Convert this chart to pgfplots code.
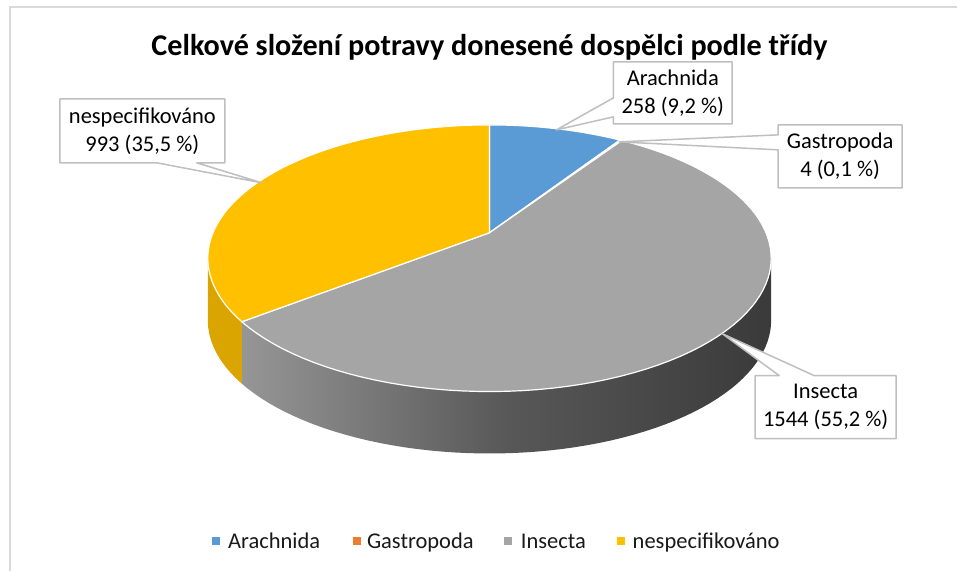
\documentclass[border=0pt]{standalone}
\usepackage{pgfplots}
\usepackage{pgfplotstable}
\pgfplotsset{compat=1.18}
\usepackage{fontspec}
\setmainfont{Carlito}

\definecolor{cArach}{RGB}{91,155,213}
\definecolor{cGastr}{RGB}{237,125,49}
\definecolor{cInsec}{RGB}{165,165,165}
\definecolor{cNesp}{RGB}{255,192,0}
\definecolor{cNespSide}{RGB}{218,165,0}
\definecolor{cSideL}{RGB}{150,150,150}
\definecolor{cSideM}{RGB}{88,88,88}
\definecolor{cSideR}{RGB}{58,58,58}
\definecolor{cLine}{RGB}{191,191,191}
\definecolor{cFrame}{RGB}{217,217,217}

% counts per class
\pgfplotstableread{
class value
Arachnida 258
Gastropoda 4
Insecta 1544
nespecifikovano 993
}\data

% cumulative angles (degrees, clockwise from 12 o'clock)
\pgfplotstablegetelem{0}{value}\of\data \let\vA\pgfplotsretval
\pgfplotstablegetelem{1}{value}\of\data \let\vB\pgfplotsretval
\pgfplotstablegetelem{2}{value}\of\data \let\vC\pgfplotsretval
\pgfplotstablegetelem{3}{value}\of\data \let\vD\pgfplotsretval
\pgfmathsetmacro\total{\vA+\vB+\vC+\vD}
\pgfmathsetmacro\aA{360*(\vA/\total)}
\pgfmathsetmacro\aB{360*((\vA+\vB)/\total)}
\pgfmathsetmacro\aC{360*((\vA+\vB+\vC)/\total)}

\begin{document}
\begin{tikzpicture}[
  % rim of the tilted pie in pixel units
  declare function={rimx(\t)=490+276.8*sin(\t)/(1+0.191*cos(\t));
                    rimy(\t)=233-128.6*cos(\t)/(1+0.191*cos(\t));},
  lbl/.style={font=\fontsize{11.25}{14}\selectfont, align=center, text=black},
  leg/.style={font=\fontsize{11.25}{14}\selectfont, anchor=base west, inner sep=0pt, text=black!90},
  call/.style={draw=cLine, line width=0.75pt, fill=white, line join=round},
]
\begin{axis}[
    scale only axis, width=479pt, height=286pt,
    xmin=0, xmax=958, ymin=0, ymax=572, y dir=reverse,
    disabledatascaling, hide axis, clip=false,
  ]
  \path (axis cs:0,0) rectangle (axis cs:958,572);
  \draw[cFrame, line width=1pt] (axis cs:10,572) -- (axis cs:10,7) -- (axis cs:958,7);

  % side walls
  \shade[left color=cSideL, right color=cSideR, middle color=cSideM]
    plot[variable=\t, domain=101:\aC, samples=60] (axis cs:{rimx(\t)},{rimy(\t)})
    -- plot[variable=\t, domain=\aC:101, samples=60] (axis cs:{rimx(\t)},{rimy(\t)+62}) -- cycle;
  \fill[cNespSide]
    plot[variable=\t, domain=\aC:259, samples=20] (axis cs:{rimx(\t)},{rimy(\t)})
    -- plot[variable=\t, domain=259:\aC, samples=20] (axis cs:{rimx(\t)},{rimy(\t)+62}) -- cycle;

  % top face
  \filldraw[fill=cArach, draw=white, line width=0.6pt] (axis cs:490,233)
    -- plot[variable=\t, domain=0:\aA, samples=20] (axis cs:{rimx(\t)},{rimy(\t)}) -- cycle;
  \filldraw[fill=cGastr, draw=white, line width=0.6pt] (axis cs:490,233)
    -- plot[variable=\t, domain=\aA:\aB, samples=3] (axis cs:{rimx(\t)},{rimy(\t)}) -- cycle;
  \filldraw[fill=cInsec, draw=white, line width=0.6pt] (axis cs:490,233)
    -- plot[variable=\t, domain=\aB:\aC, samples=80] (axis cs:{rimx(\t)},{rimy(\t)}) -- cycle;
  \filldraw[fill=cNesp, draw=white, line width=0.6pt] (axis cs:490,233)
    -- plot[variable=\t, domain=\aC:360, samples=60] (axis cs:{rimx(\t)},{rimy(\t)}) -- cycle;

  % title
  \node[font=\bfseries\fontsize{15.1}{18}\selectfont] at (axis cs:490,47)
    {Celkové složení potravy donesené dospělci podle třídy};

  % data label callouts
  \draw[call] (axis cs:614,62) -- (axis cs:733,62) -- (axis cs:733,124) -- (axis cs:614,124)
    -- (axis cs:614,117) -- (axis cs:557,130) -- (axis cs:614,98) -- cycle;
  \node[lbl] at (axis cs:673.5,93) {Arachnida\\258 (9,2 \%)};

  \draw[call] (axis cs:779,125) -- (axis cs:903,125) -- (axis cs:903,188) -- (axis cs:779,188)
    -- (axis cs:779,150) -- (axis cs:620,142) -- (axis cs:779,135) -- cycle;
  \node[lbl] at (axis cs:841,156.5) {Gastropoda\\4 (0,1 \%)};

  \draw[call] (axis cs:60,99) -- (axis cs:225,99) -- (axis cs:225,163) -- (axis cs:197,163)
    -- (axis cs:262,183) -- (axis cs:157,163) -- (axis cs:60,163) -- cycle;
  \node[lbl] at (axis cs:142.5,131) {nespecifikováno\\993 (35,5 \%)};

  \draw[call] (axis cs:756,376) -- (axis cs:780,376) -- (axis cs:723,334) -- (axis cs:815,376)
    -- (axis cs:897,376) -- (axis cs:897,439) -- (axis cs:756,439) -- cycle;
  \node[lbl] at (axis cs:826.5,407.5) {Insecta\\1544 (55,2 \%)};

  % legend
  \fill[cArach] (axis cs:212,538) rectangle (axis cs:220,546);
  \node[leg] at (axis cs:228,549) {Arachnida};
  \fill[cGastr] (axis cs:353,538) rectangle (axis cs:361,546);
  \node[leg] at (axis cs:367,549) {Gastropoda};
  \fill[cInsec] (axis cs:505,538) rectangle (axis cs:513,546);
  \node[leg] at (axis cs:521,549) {Insecta};
  \fill[cNesp] (axis cs:618,538) rectangle (axis cs:626,546);
  \node[leg] at (axis cs:633,549) {nespecifikováno};
\end{axis}
\end{tikzpicture}
\end{document}
